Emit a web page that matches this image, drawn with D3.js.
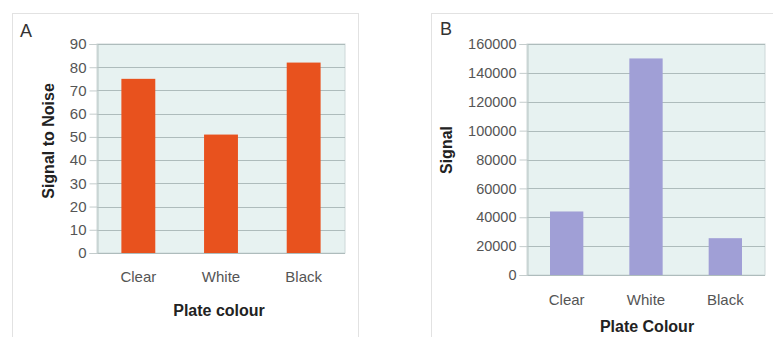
<!DOCTYPE html>
<html>
<head>
<meta charset="utf-8">
<script src="https://cdnjs.cloudflare.com/ajax/libs/d3/7.8.5/d3.min.js"></script>
<style>
  html, body { margin: 0; padding: 0; background: #fff; }
  svg { display: block; font-family: "Liberation Sans", Arial, sans-serif; }
</style>
</head>
<body>
<svg id="chart" width="773" height="337"></svg>
<script>
// Plate colour categories shared by both panels
const categories = ["Clear", "White", "Black"];
// Panel A: signal-to-noise ratio per plate colour
const signalToNoise = [75, 51, 82];
const ticksA = [0, 10, 20, 30, 40, 50, 60, 70, 80, 90];
// Panel B: raw signal per plate colour
const signal = [44000, 150000, 25500];
const ticksB = [0, 20000, 40000, 60000, 80000, 100000, 120000, 140000, 160000];

const svg = d3.select("#chart");

const panels = [
  {
    letter: "A", values: signalToNoise, ticks: ticksA, max: 90,
    yTitle: "Signal to Noise", xTitle: "Plate colour",
    color: "#e8521e",
    frame: { x: 12.5, y: 13.5, w: 346, h: 330 },
    plot: { left: 97, right: 345, top: 44, bottom: 253 },
    letterPos: [20, 37], yTitle: "Signal to Noise", yTitleX: 54, yTitleY: 141,
    catY: 282, xTitleX: 219, xTitleY: 316, barPad: 0.59, tickFont: 15, titleFont: 16
  },
  {
    letter: "B", values: signal, ticks: ticksB, max: 160000,
    xTitle: "Plate Colour",
    color: "#a09fd6",
    frame: { x: 431.5, y: 13.5, w: 360, h: 330 },
    plot: { left: 527, right: 765, top: 44, bottom: 275 },
    letterPos: [440, 35], yTitle: "Signal", yTitleX: 452, yTitleY: 150,
    catY: 305, xTitleX: 647, xTitleY: 332, barPad: 0.58, tickFont: 14.5, titleFont: 16
  }
];

panels.forEach(p => {
  const g = svg.append("g");

  // light panel frame
  g.append("rect")
    .attr("x", p.frame.x).attr("y", p.frame.y)
    .attr("width", p.frame.w).attr("height", p.frame.h)
    .attr("fill", "none").attr("stroke", "#e2e2e2").attr("stroke-width", 1);

  const x = d3.scaleBand().domain(categories)
    .range([p.plot.left, p.plot.right]).paddingInner(p.barPad).paddingOuter(p.barPad / 2);
  const y = d3.scaleLinear().domain([0, p.max]).range([p.plot.bottom, p.plot.top]);

  // plot background
  g.append("rect")
    .attr("x", p.plot.left).attr("y", p.plot.top)
    .attr("width", p.plot.right - p.plot.left).attr("height", p.plot.bottom - p.plot.top)
    .attr("fill", "#e7f2f1").attr("stroke", "#cdd8d8");

  // horizontal grid lines
  g.append("g").selectAll("line").data(p.ticks).join("line")
    .attr("x1", p.plot.left).attr("x2", p.plot.right)
    .attr("y1", d => Math.round(y(d)) + 0.5).attr("y2", d => Math.round(y(d)) + 0.5)
    .attr("stroke", "#aebcbc").attr("stroke-width", 1);

  // bars
  g.append("g").selectAll("rect").data(p.values).join("rect")
    .attr("x", (d, i) => x(categories[i]))
    .attr("width", x.bandwidth())
    .attr("y", d => y(d))
    .attr("height", d => y(0) - y(d))
    .attr("fill", p.color);

  // y axis
  const yAxis = d3.axisLeft(y).tickValues(p.ticks).tickSize(8).tickPadding(3)
    .tickFormat(d3.format("d"));
  const ya = g.append("g").attr("transform", `translate(${p.plot.left + 0.5},0)`).call(yAxis);
  ya.select(".domain").attr("stroke", "#b8c4c4");
  ya.selectAll(".tick line").attr("stroke", "#c4cccc");
  ya.selectAll("text").attr("fill", "#555").style("font-size", p.tickFont + "px")
    .style("font-family", "'Liberation Sans', Arial, sans-serif");

  // category labels
  g.append("g").selectAll("text").data(categories).join("text")
    .attr("x", d => x(d) + x.bandwidth() / 2)
    .attr("y", p.catY)
    .attr("text-anchor", "middle")
    .attr("fill", "#555").style("font-size", "15px")
    .text(d => d);

  // axis titles
  g.append("text")
    .attr("x", p.xTitleX).attr("y", p.xTitleY)
    .attr("text-anchor", "middle").attr("fill", "#222")
    .style("font-size", p.titleFont + "px").style("font-weight", "bold")
    .text(p.xTitle);

  g.append("text")
    .attr("transform", `translate(${p.yTitleX},${p.yTitleY}) rotate(-90)`)
    .attr("text-anchor", "middle").attr("fill", "#222")
    .style("font-size", p.titleFont + "px").style("font-weight", "bold")
    .text(p.yTitle);

  // panel letter
  g.append("text")
    .attr("x", p.letterPos[0]).attr("y", p.letterPos[1])
    .attr("fill", "#333").style("font-size", "18px")
    .text(p.letter);
});
</script>
</body>
</html>
